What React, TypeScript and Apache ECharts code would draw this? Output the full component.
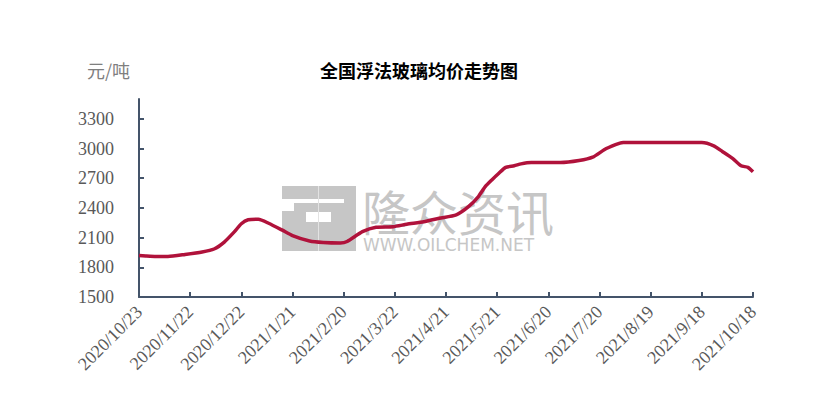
import React, { useEffect, useRef } from "react";
import * as echarts from "echarts";

const dates = [
  "2020/10/23", "2020/10/27", "2020/11/2", "2020/11/9", "2020/11/19", "2020/11/29",
  "2020/12/6", "2020/12/12", "2020/12/18", "2020/12/22", "2020/12/26", "2021/1/1",
  "2021/1/7", "2021/1/15", "2021/1/21", "2021/1/31", "2021/2/8", "2021/2/18",
  "2021/2/22", "2021/3/3", "2021/3/11", "2021/3/21", "2021/3/29", "2021/4/8",
  "2021/4/17", "2021/4/27", "2021/5/4", "2021/5/10", "2021/5/14", "2021/5/18",
  "2021/5/22", "2021/5/26", "2021/5/31", "2021/6/4", "2021/6/10", "2021/6/27",
  "2021/7/8", "2021/7/16", "2021/7/24", "2021/8/1", "2021/8/3", "2021/9/18",
  "2021/9/25", "2021/9/30", "2021/10/6", "2021/10/11", "2021/10/15", "2021/10/18",
];
const prices = [
  1920, 1915, 1910, 1910, 1930, 1955,
  1985, 2055, 2160, 2240, 2280, 2285,
  2245, 2175, 2120, 2065, 2050, 2045,
  2060, 2160, 2205, 2210, 2235, 2260,
  2295, 2330, 2410, 2515, 2615, 2685,
  2750, 2810, 2825, 2845, 2858, 2858,
  2878, 2912, 3000, 3055, 3060, 3060,
  3027, 2970, 2900, 2825, 2810, 2765,
];
const xTickLabels = [
  "2020/10/23", "2020/11/22", "2020/12/22", "2021/1/21", "2021/2/20", "2021/3/22",
  "2021/4/21", "2021/5/21", "2021/6/20", "2021/7/20", "2021/8/19", "2021/9/18", "2021/10/18",
];
const yTicks = [1500, 1800, 2100, 2400, 2700, 3000, 3300];
const titleText = "全国浮法玻璃均价走势图";
const unitText = "元/吨";
const wmText = "隆众资讯";
const wmUrl = "WWW.OILCHEM.NET";

function dayOffset(s: string): number {
  const [y, m, d] = s.split("/").map(Number);
  return Math.round((Date.UTC(y, m - 1, d) - Date.UTC(2020, 9, 23)) / 86400000);
}

export default function App() {
  const ref = useRef<HTMLDivElement>(null);
  useEffect(() => {
    document.body.style.margin = "0";
    const chart = echarts.init(ref.current!, null, { renderer: "svg" });
    const seriesData = dates.map((d, i) => [dayOffset(d), prices[i]]);
    const axisColor = "#44546a";
    const wmColor = "#c6c6c6";
    chart.setOption({
      animation: false,
      backgroundColor: "#ffffff",
      title: {
        text: titleText,
        left: 320,
        top: 61,
        padding: 0,
        textStyle: { fontSize: 18, fontWeight: "bold", color: "#000", fontFamily: "Noto Sans CJK SC" },
      },
      grid: { left: 139, right: 77, top: 99, bottom: 119, containLabel: false },
      xAxis: {
        type: "value",
        min: 0,
        max: 360,
        interval: 30,
        splitLine: { show: false },
        axisLine: { show: true, lineStyle: { color: axisColor, width: 2 } },
        axisTick: { show: true, inside: true, length: 5, lineStyle: { color: axisColor, width: 2 } },
        axisLabel: {
          rotate: 45,
          margin: 12,
          color: "#595959",
          fontSize: 18,
          fontFamily: "Liberation Serif",
          formatter: (v: number) => xTickLabels[Math.round(v / 30)] ?? "",
        },
      },
      yAxis: {
        type: "value",
        min: 1500,
        max: 3500,
        interval: 300,
        splitLine: { show: false },
        axisLine: { show: true, lineStyle: { color: axisColor, width: 2 } },
        axisTick: { show: true, inside: true, length: 5, customValues: yTicks, lineStyle: { color: axisColor, width: 2 } },
        axisLabel: {
          customValues: yTicks,
          margin: 25,
          color: "#595959",
          fontSize: 18,
          fontFamily: "Liberation Serif",
          formatter: (v: number) => String(v),
        },
      },
      graphic: [
        {
          type: "text",
          x: 87,
          y: 61,
          style: { text: unitText, fill: "#7f7f7f", fontSize: 18, fontFamily: "Noto Sans CJK SC" },
        },
        {
          type: "group",
          z: -1,
          children: [
            { type: "rect", shape: { x: 282, y: 186, width: 74, height: 65 }, style: { fill: wmColor } },
            { type: "rect", shape: { x: 282, y: 199, width: 62, height: 4 }, style: { fill: "#ffffff" } },
            { type: "rect", shape: { x: 306, y: 212, width: 25, height: 10 }, style: { fill: "#ffffff" } },
            { type: "rect", shape: { x: 282, y: 203, width: 12, height: 8 }, style: { fill: "#ffffff" } },
            { type: "rect", shape: { x: 318, y: 186, width: 1, height: 65 }, style: { fill: "#e3e3e3" } },
          ],
        },
        {
          type: "text",
          x: 362,
          y: 187,
          z: -1,
          style: {
            text: wmText,
            fill: wmColor,
            fontSize: 48,
            lineHeight: 46,
            fontFamily: "Noto Sans CJK SC",
            fontWeight: "normal",
          },
        },
        {
          type: "text",
          x: 363,
          y: 236,
          z: -1,
          style: { text: wmUrl, fill: wmColor, fontSize: 17, lineHeight: 17, fontFamily: "DejaVu Sans", fontWeight: "normal" },
        },
      ],
      series: [
        {
          type: "line",
          data: seriesData,
          showSymbol: false,
          symbol: "none",
          smooth: 0.2,
          lineStyle: { color: "#b0123b", width: 3.5 },
          z: 3,
        },
      ],
    });
    return () => chart.dispose();
  }, []);
  return <div ref={ref} style={{ width: 830, height: 416 }} />;
}
